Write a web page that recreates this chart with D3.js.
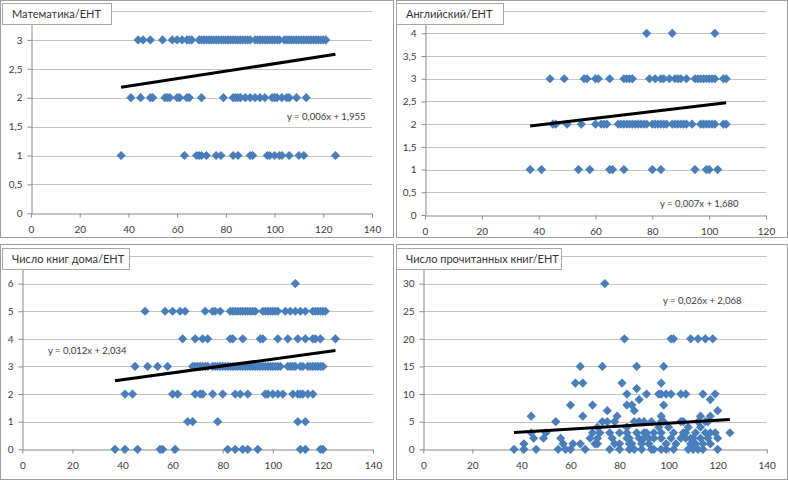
<!DOCTYPE html>
<html><head><meta charset="utf-8">
<script src="https://cdn.jsdelivr.net/npm/d3@7"></script>
<style>
body{margin:0;background:#fff}
svg{display:block}
text{font-family:Lato,"Open Sans",sans-serif}
</style>
</head><body>
<svg id="c" width="788" height="480"></svg>
<script>
// ---------- DATA ----------
// Panel 1: Математика/ЕНТ  (x = ЕНТ score, grouped by y value)
const mathY3 = [44,46,49,54,58,60,62,64,65,66,69,70,71,72,73,74,75,76,77,78,79,80,81,82,83,84,85,86,87,88,89,90,92,93,94,95,96,97,98,99,100,101,102,104,105,106,107,108,109,110,111,112,113,114,115,116,117,118,119,120,121];
const mathY2 = [41,45,49,50,55,56,57,60,61,64,65,70,79,83,84,85,86,88,90,92,94,96,99,100,101,103,105,106,109,113];
const mathY1 = [37,63,68,69,70,72,76,78,83,85,90,91,97,98,100,102,103,106,110,112,125];
const mathTrend = [[37,2.18],[125,2.75]];
const mathEq = "y = 0,006x + 1,955";

// Panel 2: Английский/ЕНТ
const engY4 = [78,87,102];
const engY3 = [44,49,56,57,60,61,65,70,71,72,73,79,81,83,84,86,88,89,90,92,95,96,97,98,99,100,101,102,105,106];
const engY2 = [45,46,50,55,60,62,63,64,68,69,70,71,72,73,74,75,76,77,78,80,81,82,83,84,85,87,88,89,90,91,92,94,97,98,99,100,101,102,105,106];
const engY1 = [37,41,54,58,65,66,70,80,83,95,99,100,103];
const engTrend = [[37,1.96],[106,2.47]];
const engEq = "y = 0,007x + 1,680";

// Panel 3: Число книг дома/ЕНТ
const homeY6 = [109];
const homeY5 = [49,57,60,63,65,73,76,77,79,83,84,85,86,87,88,89,90,91,92,93,96,97,98,99,100,101,102,105,107,109,111,113,116,117,118,119,120,121];
const homeY4 = [64,69,72,74,83,84,88,95,96,102,106,110,113,116,117,119,125];
const homeY3 = [45,50,54,58,68,69,70,71,72,73,74,76,77,78,79,80,81,82,83,84,85,86,87,88,89,90,91,92,93,94,95,96,97,98,99,100,101,102,103,106,107,108,109,111,112,114,115,116,117,118,119,120];
const homeY2 = [41,44,60,62,69,71,72,76,80,85,87,90,97,98,100,102,104,108,110,111,112,114,116];
const homeY1 = [66,68,78,110,113];
const homeY0 = [37,41,46,55,56,61,82,85,88,90,94,111,113,119,120];
const homeTrend = [[37,2.48],[125,3.58]];
const homeEq = "y = 0,012x + 2,034";

// Panel 4: Число прочитанных книг/ЕНТ
const readY0 = [37,41,46,55,58,60,66,76,80,84,86,89,93,94,97,99,102,108,110,112,114,120];
const readY1 = [41,57,61,64,70,71,78,80,84,85,89,92,99,103,109,111,114,117];
const readY2 = [45,49,56,68,71,77,83,84,88,90,92,94,97,101,105,107,109,110,113,116,120];
const readY3 = [44,50,69,72,76,80,83,87,90,91,94,97,102,106,107,111,115,117,119,125];
const readY4 = [71,83,96,100,108,113];
const readY5 = [54,73,75,78,86,88,90,93,97,98,105,106,112,115,116];
const readY6 = [44,65,79,97,113,117];
const readY7 = [75,86,120];
const readY8 = [60,69,83,85,98];
const readY9 = [88,117];
const readY10 = [83,91,96,97,99,101,105,107,114,119];
const readY11 = [87];
const readY12 = [62,65,81,97];
const readY15 = [64,73,87,98];
const readY20 = [82,101,102,109,112,115,118];
const readY30 = [74];
const readTrend = [[37,3.05],[125,5.4]];
const readEq = "y = 0,026x + 2,068";

// tick values (labels shown) and gridline values
const xTicks140 = [0,20,40,60,80,100,120,140];
const xTicks120 = [0,20,40,60,80,100,120];
const mathYTicks = [0,0.5,1,1.5,2,2.5,3];
const engYTicks = [0,0.5,1,1.5,2,2.5,3,3.5,4];
const homeYTicks = [0,1,2,3,4,5,6];
const readYTicks = [0,5,10,15,20,25,30];
const mathYMax = 3.5, engYMax = 4.5, homeYMax = 7, readYMax = 35;

const titles = ["Математика/ЕНТ","Английский/ЕНТ","Число книг дома/ЕНТ","Число прочитанных книг/ЕНТ"];

function rows(pairs){ return pairs.flatMap(([yv,xs]) => xs.map(xv => ({x:xv, y:yv}))); }

// ---------- LAYOUT ----------
const panels = [
  {frame:[0,0,393,237], plot:{l:31,r:372,t:11,b:213.3}, xDom:[0,140], yDom:[0,mathYMax], xTicks:xTicks140, yTicks:mathYTicks,
   title:titles[0], tbox:[2,3,109,21],
   pts: rows([[3,mathY3],[2,mathY2],[1,mathY1]]), trend:mathTrend, eq:mathEq, eqPos:[287,120]},
  {frame:[396,0,391,237], plot:{l:425,r:766,t:10.6,b:215}, xDom:[0,120], yDom:[0,engYMax], xTicks:xTicks120, yTicks:engYTicks,
   title:titles[1], tbox:[396,3,107,21],
   pts: rows([[4,engY4],[3,engY3],[2,engY2],[1,engY1]]), trend:engTrend, eq:engEq, eqPos:[660,207]},
  {frame:[0,244,393,235], plot:{l:22.3,r:373,t:256,b:449.3}, xDom:[0,140], yDom:[0,homeYMax], xTicks:xTicks140, yTicks:homeYTicks,
   title:titles[2], tbox:[2,248,127,21],
   pts: rows([[6,homeY6],[5,homeY5],[4,homeY4],[3,homeY3],[2,homeY2],[1,homeY1],[0,homeY0]]), trend:homeTrend, eq:homeEq, eqPos:[48,354]},
  {frame:[396,244,391,235], plot:{l:423.3,r:766.7,t:256,b:449.3}, xDom:[0,140], yDom:[0,readYMax], xTicks:xTicks140, yTicks:readYTicks,
   title:titles[3], tbox:[396,248,165,21],
   pts: rows([[0,readY0],[1,readY1],[2,readY2],[3,readY3],[4,readY4],[5,readY5],[6,readY6],[7,readY7],[8,readY8],[9,readY9],[10,readY10],[11,readY11],[12,readY12],[15,readY15],[20,readY20],[30,readY30]]),
   trend:readTrend, eq:readEq, eqPos:[663,304]}
];

const svg = d3.select("#c");
svg.append("rect").attr("width",788).attr("height",480).attr("fill","#fff");
const fmt = d => String(d).replace(".", ",");
const diamond = "M0,-4.6L4.6,0L0,4.6L-4.6,0Z";

panels.forEach(p => {
  const g = svg.append("g");
  g.append("rect").attr("x",p.frame[0]+0.5).attr("y",p.frame[1]+0.5)
    .attr("width",p.frame[2]).attr("height",p.frame[3])
    .attr("fill","#fff").attr("stroke","#9d9d9d");
  const x = d3.scaleLinear().domain(p.xDom).range([p.plot.l,p.plot.r]);
  const y = d3.scaleLinear().domain(p.yDom).range([p.plot.b,p.plot.t]);

  // gridlines (including the top one at the domain max)
  const grid = p.yTicks.filter(d=>d>0).concat([p.yDom[1]]);
  g.selectAll(".grid").data(grid).join("line")
    .attr("x1",x(p.xDom[0])).attr("x2",x(p.xDom[1]))
    .attr("y1",d=>Math.round(y(d))+0.5).attr("y2",d=>Math.round(y(d))+0.5)
    .attr("stroke","#c3c3c3").attr("stroke-width",1);

  // axes
  const ax = g.append("g").attr("transform",`translate(0,${Math.round(y(0))+0.5})`)
    .call(d3.axisBottom(x).tickValues(p.xTicks).tickSize(4).tickSizeOuter(0).tickPadding(8).tickFormat(d3.format("d")));
  const ay = g.append("g").attr("transform",`translate(${Math.round(x(0))+0.5},0)`)
    .call(d3.axisLeft(y).tickValues(p.yTicks).tickSize(4).tickSizeOuter(0).tickPadding(5).tickFormat(fmt));
  [ax,ay].forEach(a => {
    a.select(".domain").attr("stroke","#8a8a8a");
    a.selectAll(".tick line").attr("stroke","#8a8a8a");
    a.selectAll(".tick text").attr("fill","#3a3a3a").style("font-size","10px").style("font-family","Lato,'Open Sans',sans-serif");
  });

  // points
  g.selectAll(".pt").data(p.pts).join("path")
    .attr("d",diamond)
    .attr("transform",d=>`translate(${x(d.x)},${y(d.y)})`)
    .attr("fill","#4a7ebb");

  // trend line
  g.append("line")
    .attr("x1",x(p.trend[0][0])).attr("y1",y(p.trend[0][1]))
    .attr("x2",x(p.trend[1][0])).attr("y2",y(p.trend[1][1]))
    .attr("stroke","#000").attr("stroke-width",3);

  g.append("text").attr("x",p.eqPos[0]).attr("y",p.eqPos[1])
    .attr("fill","#3a3a3a").style("font-size","9.5px").text(p.eq);

  // title box
  g.append("rect").attr("x",p.tbox[0]+0.5).attr("y",p.tbox[1]+0.5)
    .attr("width",p.tbox[2]).attr("height",p.tbox[3])
    .attr("fill","#fff").attr("stroke","#a8a8a8");
  g.append("text").attr("x",p.tbox[0]+10).attr("y",p.tbox[1]+p.tbox[3]/2+4)
    .attr("fill","#333").style("font-size","11px").text(p.title);
});
</script>
</body></html>
